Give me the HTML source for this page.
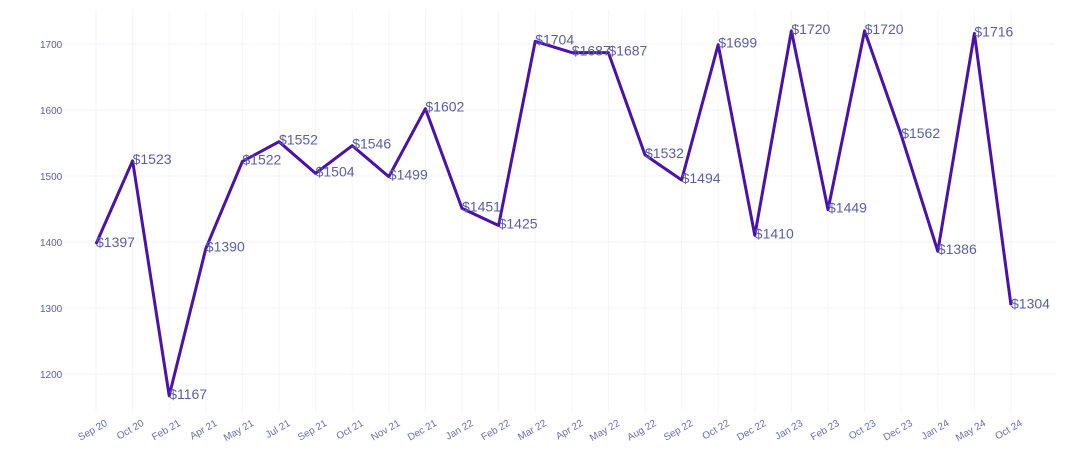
<!DOCTYPE html>
<html><head><meta charset="utf-8"><style>
html,body{margin:0;padding:0;background:#fff;}
svg{display:block;font-family:"Liberation Sans",sans-serif;}
</style></head><body>
<svg id="chart" width="1070" height="465" xmlns="http://www.w3.org/2000/svg">
<g id="grid"></g>
<g id="yaxis"></g>
<g id="xaxis"></g>
<g id="series"></g>
</svg>
<script>
const categories=["Sep 20","Oct 20","Feb 21","Apr 21","May 21","Jul 21","Sep 21","Oct 21","Nov 21","Dec 21","Jan 22","Feb 22","Mar 22","Apr 22","May 22","Aug 22","Sep 22","Oct 22","Dec 22","Jan 23","Feb 23","Oct 23","Dec 23","Jan 24","May 24","Oct 24"];
const values=[1397,1523,1167,1390,1522,1552,1504,1546,1499,1602,1451,1425,1704,1687,1687,1532,1494,1699,1410,1720,1449,1720,1562,1386,1716,1304];
const yTicks=[1200,1300,1400,1500,1600,1700];
const NS="http://www.w3.org/2000/svg";
const x0=96,x1=1011,yTop=44,yBot=374;
function xs(i){return x0+(x1-x0)*i/(categories.length-1);}
function ys(v){return yBot-(v-1200)*(yBot-yTop)/500;}
function mk(t,a,p){const e=document.createElementNS(NS,t);for(const k in a)e.setAttribute(k,a[k]);p.appendChild(e);return e;}
const grid=document.getElementById('grid'),ya=document.getElementById('yaxis'),xa=document.getElementById('xaxis'),se=document.getElementById('series');
yTicks.forEach(v=>{
 const l=mk('line',{x1:50,x2:1055,y1:ys(v),y2:ys(v),stroke:'#f2f2fc','stroke-width':1},grid);
 
 
 const t=mk('text',{x:40,y:ys(v)+4,'font-size':10,fill:'#5a5fa0'},ya);
 t.textContent=v;
 
 
});
categories.forEach((c,i)=>{
 const x=xs(i);
 const l=mk('line',{x1:x,x2:x,y1:10,y2:412,stroke:'#f4f4fc','stroke-width':1},grid);
 
 
 const t=mk('text',{x:x+12,y:425,'font-size':10,fill:'#6a6fb0','text-anchor':'end',transform:`rotate(-30 ${x+12} 425)`},xa);
 t.textContent=c;
 
 
});
const p=mk('polyline',{points:values.map((v,i)=>xs(i)+','+ys(v)).join(' '),fill:'none',stroke:'#4a12aa','stroke-width':3,'stroke-linejoin':'round'},se);


values.forEach((v,i)=>{
 const t=mk('text',{x:xs(i),y:ys(v)+3,'font-size':14,fill:'#5a5fa0'},se);
 t.textContent='$'+v;
 
 
});
</script>
</body></html>
